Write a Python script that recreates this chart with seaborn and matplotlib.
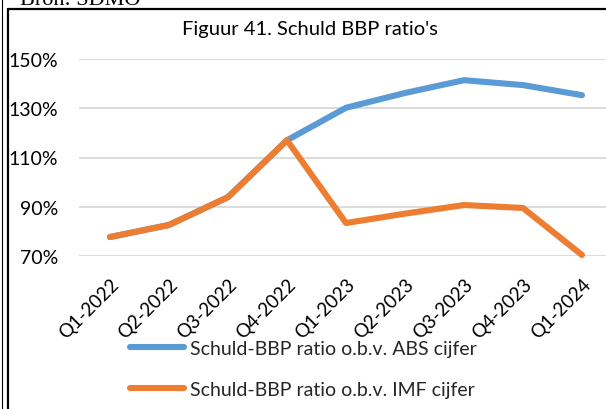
import matplotlib
matplotlib.use("Agg")
import matplotlib.pyplot as plt
from matplotlib.lines import Line2D
import seaborn as sns
import pandas as pd

quarters = ["Q1-2022", "Q2-2022", "Q3-2022", "Q4-2022", "Q1-2023",
            "Q2-2023", "Q3-2023", "Q4-2023", "Q1-2024"]
abs_ratio = [77.7, 82.6, 93.9, 117.0, 130.2, 136.2, 141.4, 139.4, 135.3]
imf_ratio = [77.7, 82.6, 93.9, 117.0, 83.4, 87.2, 90.7, 89.5, 70.4]
abs_label = "Schuld-BBP ratio o.b.v. ABS cijfer"
imf_label = "Schuld-BBP ratio o.b.v. IMF cijfer"
yticks = [70, 90, 110, 130, 150]

blue = "#5B9BD5"
orange = "#ED7D31"

df = pd.DataFrame({
    "idx": list(range(len(quarters))) * 2,
    "value": abs_ratio + imf_ratio,
    "serie": [abs_label] * len(quarters) + [imf_label] * len(quarters),
})

sns.set_style("white")
plt.rcParams["font.family"] = ["Lato", "DejaVu Sans"]

LW = 4.4

W, H = 606, 410
fig = plt.figure(figsize=(W / 100, H / 100), dpi=100)

# plot area in pixel coordinates
top_px, bottom_px = 60, 257
step = 59.0
x0 = 110.0
ax_left = x0 - 0.525 * step
ax_right = x0 + 8 * step + 0.525 * step
ax = fig.add_axes([ax_left / W, 1 - bottom_px / H,
                   (ax_right - ax_left) / W, (bottom_px - top_px) / H])

sns.lineplot(data=df, x="idx", y="value", hue="serie",
             palette={abs_label: blue, imf_label: orange},
             linewidth=LW, ax=ax, legend=False, sort=False)
for ln in ax.lines:
    ln.set_clip_on(False)
    ln.set_solid_capstyle("round")
    ln.set_solid_joinstyle("round")

ax.set_xlim(-0.525, 8.525)
ax.set_ylim(70, 150)
ax.set_yticks(yticks)
ax.set_yticklabels([f"{v}%" for v in yticks], fontsize=14, color="#000000")
ax.set_xticks(range(len(quarters)))
ax.set_xticklabels(quarters, rotation=45, ha="right", rotation_mode="anchor",
                   fontsize=13.5, color="#000000")
ax.tick_params(axis="both", length=0)
ax.tick_params(axis="y", pad=15)
ax.tick_params(axis="x", pad=14)
ax.yaxis.grid(True, color="#D9D9D9", linewidth=1.3)
ax.set_axisbelow(True)
for s in ax.spines.values():
    s.set_visible(False)
ax.set_xlabel("")
ax.set_ylabel("")

# title
fig.text(310 / W, 1 - 30 / H, "Figuur 41. Schuld BBP ratio's",
         ha="center", va="center", fontsize=14.5, color="#000000")

# legend
handles = [Line2D([0], [0], color=blue, linewidth=LW, solid_capstyle="round"),
           Line2D([0], [0], color=orange, linewidth=LW, solid_capstyle="round")]
fig.legend(handles, [abs_label, imf_label], loc="center",
           bbox_to_anchor=(303 / W, 1 - 370 / H), frameon=False,
           fontsize=14, handlelength=2.8, handletextpad=0.28,
           labelspacing=1.25, borderaxespad=0, borderpad=0)

# source note and frame
fig.text(20 / W, 1 - 5 / H, "Bron: SDMO", ha="left", va="baseline",
         fontsize=16, family="Liberation Serif", color="#000000")
fig.add_artist(Line2D([2.5 / W, 2.5 / W], [0, 1], color="black", linewidth=0.8))
fig.add_artist(Line2D([7.5 / W, 7.5 / W], [0, 1 - 10 / H], color="black", linewidth=1.6))
fig.add_artist(Line2D([7.5 / W, 1], [1 - 10 / H, 1 - 10 / H], color="black", linewidth=1.6))

fig.savefig("out.png", dpi=100)
